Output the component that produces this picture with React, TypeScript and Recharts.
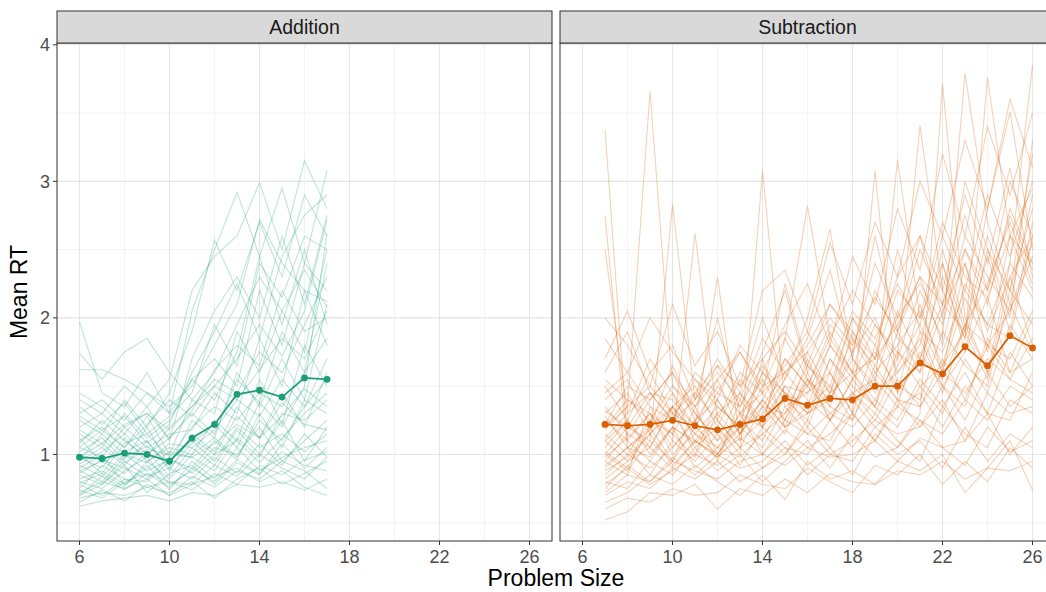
import React from 'react';
import { LineChart, Line, XAxis, YAxis, CartesianGrid } from 'recharts';

// problem sizes shown in each facet
const additionSizes = [6, 7, 8, 9, 10, 11, 12, 13, 14, 15, 16, 17];
const subtractionSizes = [7, 8, 9, 10, 11, 12, 13, 14, 15, 16, 17, 18, 19, 20, 21, 22, 23, 24, 25, 26];

// group means (dark line with points)
const additionMean = [0.98, 0.97, 1.01, 1.0, 0.95, 1.12, 1.22, 1.44, 1.47, 1.42, 1.56, 1.55];
const subtractionMean = [
  1.22, 1.21, 1.22, 1.25, 1.21, 1.18, 1.22, 1.26, 1.41, 1.36,
  1.41, 1.4, 1.5, 1.5, 1.67, 1.59, 1.79, 1.65, 1.87, 1.78,
];

// individual participants (faint lines), one row per participant
const additionParticipants: number[][] = [
  [0.62, 0.66, 0.68, 0.7, 0.66, 0.72, 0.7, 0.78, 0.76, 0.8, 0.74, 0.82],
  [0.68, 0.72, 0.7, 0.76, 0.72, 0.8, 0.68, 0.82, 0.9, 0.78, 0.86, 0.95],
  [0.72, 0.8, 0.75, 0.82, 0.7, 0.78, 0.84, 0.9, 0.8, 0.88, 0.76, 0.7],
  [0.78, 0.7, 0.82, 0.76, 0.8, 0.74, 0.86, 0.78, 0.92, 0.85, 0.96, 1.02],
  [0.82, 0.88, 0.78, 0.92, 0.74, 0.95, 0.82, 1.05, 0.88, 0.98, 1.05, 1.1],
  [0.85, 0.78, 0.95, 0.84, 0.9, 0.82, 0.98, 0.86, 1.08, 0.92, 1.15, 0.98],
  [0.88, 0.95, 0.86, 1.02, 0.84, 1.05, 0.92, 1.18, 1.0, 1.25, 0.95, 1.2],
  [0.92, 0.84, 1.0, 0.88, 0.96, 0.9, 1.1, 0.96, 1.3, 1.05, 1.4, 1.3],
  [0.95, 1.05, 0.92, 1.1, 0.88, 1.15, 1.02, 1.35, 1.12, 1.45, 1.2, 1.6],
  [0.98, 0.9, 1.12, 0.95, 1.05, 1.0, 1.25, 1.1, 1.55, 1.22, 1.8, 1.5],
  [1.02, 1.12, 0.96, 1.2, 0.92, 1.25, 1.12, 1.6, 1.35, 1.7, 1.4, 2.1],
  [1.05, 0.98, 1.2, 1.05, 1.15, 1.18, 1.45, 1.3, 1.85, 1.5, 2.2, 1.8],
  [1.1, 1.2, 1.05, 1.28, 1.0, 1.4, 1.3, 1.9, 1.6, 2.05, 1.75, 2.5],
  [1.15, 1.05, 1.3, 1.12, 1.25, 1.55, 1.7, 1.5, 2.2, 1.8, 2.4, 2.2],
  [1.2, 1.3, 1.15, 1.35, 1.1, 1.7, 2.05, 2.3, 2.0, 2.6, 2.1, 2.75],
  [1.25, 1.15, 1.4, 1.2, 1.45, 1.9, 2.57, 2.2, 2.7, 2.3, 2.9, 2.6],
  [1.3, 1.4, 1.25, 1.45, 1.3, 2.05, 2.5, 2.92, 2.45, 2.95, 2.4, 3.08],
  [1.4, 1.3, 1.5, 1.35, 1.55, 2.2, 2.45, 2.6, 2.99, 2.5, 3.15, 2.8],
  [1.62, 1.62, 1.55, 1.45, 1.35, 1.5, 1.8, 2.1, 2.72, 2.4, 2.2, 2.12],
  [1.74, 1.55, 1.75, 1.85, 1.6, 1.4, 1.6, 1.95, 2.3, 2.05, 2.35, 2.08],
  [1.97, 1.45, 1.35, 1.6, 1.3, 1.55, 1.4, 1.75, 2.45, 1.95, 2.5, 1.95],
  [0.75, 0.92, 0.82, 0.8, 0.95, 1.1, 0.95, 1.2, 1.05, 1.15, 1.02, 1.15],
  [0.8, 0.75, 0.88, 0.98, 0.78, 0.88, 1.05, 1.0, 1.2, 0.95, 1.1, 1.25],
  [0.9, 1.0, 0.78, 0.9, 1.02, 0.98, 0.88, 1.12, 0.98, 1.3, 1.25, 1.4],
  [1.0, 0.86, 1.08, 1.15, 0.98, 1.2, 1.35, 1.25, 1.45, 1.35, 1.6, 1.85],
  [1.08, 1.25, 1.1, 0.98, 1.2, 1.35, 1.55, 1.45, 1.75, 1.6, 1.95, 2.3],
  [0.7, 0.78, 0.92, 0.72, 0.86, 0.92, 0.78, 0.94, 0.85, 1.08, 0.9, 1.05],
  [0.65, 0.74, 0.66, 0.78, 0.7, 0.84, 0.76, 0.88, 0.82, 0.95, 0.88, 0.75],
  [1.18, 1.08, 1.22, 1.3, 1.12, 1.32, 1.62, 1.8, 1.65, 2.2, 1.9, 2.0],
  [0.96, 1.15, 1.0, 0.94, 1.08, 1.05, 1.18, 1.4, 1.28, 1.55, 1.35, 1.7],
  [0.74, 0.68, 0.8, 0.86, 0.76, 0.9, 0.8, 0.96, 0.86, 1.02, 0.92, 0.88],
  [0.86, 0.96, 0.9, 0.82, 0.98, 0.86, 1.0, 1.1, 0.94, 1.12, 1.3, 1.45],
  [1.12, 0.94, 1.02, 1.1, 0.9, 1.08, 1.22, 1.05, 1.38, 1.2, 1.5, 2.62],
  [0.93, 1.02, 1.15, 1.0, 1.12, 1.3, 1.15, 1.55, 1.38, 1.9, 1.6, 2.4],
  [1.28, 1.18, 1.05, 1.22, 1.4, 1.28, 1.5, 1.7, 1.95, 1.72, 2.05, 2.72],
  [0.79, 0.86, 0.76, 0.95, 0.82, 1.0, 1.12, 0.98, 1.25, 1.1, 1.35, 1.55],
  [1.05, 1.18, 1.28, 1.08, 1.22, 1.6, 1.9, 2.25, 1.85, 2.45, 2.75, 2.9],
  [0.7, 0.84, 0.74, 0.86, 0.8, 0.78, 0.92, 0.84, 1.0, 0.9, 0.82, 0.98],
  [1.35, 1.22, 1.38, 1.15, 1.28, 1.45, 1.95, 1.65, 2.4, 2.15, 2.6, 2.5],
  [0.88, 0.8, 0.98, 1.06, 0.94, 1.12, 1.0, 1.28, 1.12, 1.38, 1.22, 1.18],
  [1.45, 1.35, 1.2, 1.3, 1.18, 1.35, 1.5, 1.4, 1.62, 1.85, 1.7, 2.05],
  [0.98, 1.08, 0.94, 1.04, 1.0, 0.98, 1.08, 1.22, 1.12, 1.28, 1.48, 1.35],
];

const subtractionParticipants: number[][] = [
  [3.38, 1.1, 0.95, 1.2, 0.9, 1.05, 0.98, 1.15, 1.0, 1.25, 1.05, 1.3, 1.1, 1.4, 1.2, 1.5, 1.25, 1.6, 1.35, 1.5],
  [2.75, 1.05, 1.2, 0.95, 1.35, 1.0, 1.25, 1.1, 1.45, 1.2, 1.6, 1.3, 1.8, 1.45, 2.1, 1.6, 2.4, 1.75, 2.6, 2.2],
  [2.5, 1.3, 1.7, 1.45, 1.2, 1.55, 1.15, 1.4, 1.7, 1.5, 1.9, 1.6, 2.2, 1.85, 1.7, 2.1, 1.9, 2.6, 2.1, 2.9],
  [1.2, 1.35, 3.66, 1.5, 1.3, 1.1, 1.25, 1.6, 1.4, 1.75, 1.45, 2.0, 1.7, 1.95, 2.3, 1.8, 2.5, 2.1, 2.8, 2.4],
  [1.0, 1.2, 1.1, 2.83, 1.4, 2.0, 1.3, 1.2, 1.5, 1.45, 1.8, 1.6, 1.7, 2.5, 1.9, 1.75, 2.2, 1.95, 1.85, 2.6],
  [0.95, 0.85, 1.35, 1.1, 2.62, 1.25, 1.05, 1.35, 1.15, 1.55, 1.25, 1.45, 1.55, 1.35, 1.9, 1.5, 1.75, 2.15, 1.6, 2.0],
  [1.6, 1.9, 1.45, 1.4, 1.2, 2.3, 1.1, 1.7, 1.2, 1.6, 1.25, 1.55, 1.35, 1.75, 1.5, 1.65, 1.9, 1.55, 2.3, 1.8],
  [1.1, 0.95, 1.15, 1.3, 1.05, 1.2, 1.0, 3.08, 1.35, 1.45, 1.6, 1.3, 3.08, 1.45, 1.7, 1.55, 1.95, 1.8, 2.05, 2.45],
  [0.85, 1.0, 0.9, 1.05, 1.25, 0.95, 1.4, 1.2, 1.85, 2.82, 1.85, 1.6, 1.4, 1.7, 2.2, 1.85, 3.79, 2.7, 2.2, 3.2],
  [1.25, 1.1, 1.3, 1.0, 1.15, 1.35, 1.2, 1.3, 1.55, 2.0, 2.65, 1.7, 1.5, 3.16, 2.0, 2.4, 1.9, 2.8, 3.51, 2.5],
  [1.4, 1.55, 1.2, 1.65, 1.3, 1.1, 1.45, 1.25, 1.7, 1.5, 1.85, 2.2, 1.95, 1.7, 3.41, 2.2, 1.85, 3.76, 2.6, 2.95],
  [0.7, 0.8, 0.75, 0.9, 0.82, 0.95, 0.8, 0.9, 1.05, 0.85, 1.0, 0.95, 1.2, 1.05, 1.3, 3.71, 2.0, 1.6, 2.4, 3.85],
  [0.52, 0.58, 0.72, 0.7, 0.78, 0.6, 0.75, 0.7, 0.82, 0.72, 0.86, 0.8, 0.78, 0.88, 0.85, 0.95, 0.82, 0.9, 0.88, 0.95],
  [0.6, 0.68, 0.65, 0.75, 0.7, 0.72, 0.85, 0.78, 0.75, 0.9, 0.8, 0.72, 0.92, 0.85, 1.0, 0.78, 0.95, 0.8, 1.05, 0.9],
  [0.65, 0.72, 0.85, 0.78, 0.92, 0.8, 0.7, 0.85, 0.67, 0.95, 0.82, 0.88, 0.78, 0.95, 0.88, 1.0, 0.72, 0.9, 1.1, 0.74],
  [0.75, 0.92, 0.8, 0.98, 0.85, 1.0, 0.9, 0.95, 1.1, 0.92, 1.05, 0.85, 1.15, 1.0, 1.1, 0.9, 1.2, 0.95, 1.15, 1.05],
  [0.8, 0.75, 0.95, 0.85, 1.05, 0.88, 1.0, 0.8, 0.95, 1.1, 0.9, 1.15, 0.98, 1.05, 1.25, 1.05, 1.1, 1.3, 1.0, 1.2],
  [0.9, 1.05, 0.85, 1.1, 0.95, 1.15, 0.92, 1.2, 1.05, 1.0, 1.25, 1.05, 1.3, 1.1, 0.95, 1.35, 1.15, 1.05, 1.4, 1.3],
  [1.0, 0.88, 1.1, 0.95, 1.2, 1.05, 1.3, 1.0, 1.25, 1.15, 1.1, 1.4, 1.2, 1.35, 1.45, 1.2, 1.5, 1.3, 1.25, 1.6],
  [1.05, 1.25, 1.0, 1.2, 1.1, 0.98, 1.15, 1.4, 1.2, 1.35, 1.5, 1.25, 1.65, 1.4, 1.35, 1.7, 1.4, 1.8, 1.55, 1.45],
  [1.15, 1.0, 1.25, 1.15, 0.98, 1.3, 1.1, 1.25, 1.5, 1.3, 1.4, 1.7, 1.45, 1.6, 1.85, 1.45, 1.95, 1.6, 2.1, 1.75],
  [1.3, 1.45, 1.15, 1.35, 1.5, 1.2, 1.55, 1.35, 1.3, 1.65, 1.45, 1.85, 1.55, 2.05, 1.7, 2.3, 1.85, 2.45, 1.9, 2.7],
  [1.5, 1.25, 1.6, 1.3, 1.45, 1.65, 1.35, 1.75, 2.2, 1.6, 1.95, 1.75, 2.4, 2.0, 2.6, 2.2, 2.9, 2.4, 3.1, 2.3],
  [1.85, 1.6, 2.0, 1.75, 1.55, 1.4, 1.8, 1.6, 1.95, 2.25, 1.8, 2.45, 2.1, 2.8, 2.35, 3.2, 2.6, 3.4, 2.9, 3.5],
  [2.0, 1.8, 1.5, 2.1, 1.65, 1.9, 1.5, 2.2, 2.35, 1.9, 2.55, 2.1, 2.7, 2.3, 3.0, 2.6, 3.3, 2.8, 3.6, 3.1],
  [1.12, 1.3, 1.45, 1.25, 1.6, 1.45, 1.75, 1.5, 1.6, 1.8, 2.1, 1.9, 1.7, 2.2, 2.0, 2.7, 2.3, 2.15, 2.6, 2.4],
  [0.88, 0.98, 1.15, 0.92, 1.1, 1.0, 1.2, 1.05, 1.35, 1.15, 1.3, 1.2, 1.4, 1.25, 1.55, 1.35, 1.6, 1.3, 1.75, 1.5],
  [1.35, 1.15, 1.4, 1.6, 1.25, 1.5, 1.3, 1.55, 1.25, 1.7, 1.35, 1.9, 1.6, 1.8, 2.05, 1.65, 2.25, 1.95, 2.4, 2.15],
  [0.78, 0.9, 0.78, 0.88, 1.0, 0.92, 1.05, 0.9, 1.0, 1.2, 1.0, 1.1, 1.25, 1.15, 1.2, 1.4, 1.1, 1.45, 1.3, 1.35],
  [1.7, 2.05, 1.6, 1.8, 1.4, 1.7, 1.45, 2.0, 1.55, 1.85, 2.35, 1.7, 2.6, 1.9, 2.5, 2.1, 2.75, 2.2, 3.0, 2.6],
  [0.95, 1.15, 1.05, 1.35, 1.0, 1.4, 1.15, 1.6, 1.45, 1.3, 1.7, 1.5, 1.35, 1.9, 1.6, 2.4, 1.75, 2.5, 2.0, 3.3],
  [1.2, 1.4, 1.3, 1.15, 1.45, 1.25, 1.6, 1.45, 2.25, 1.65, 1.5, 2.0, 1.8, 2.3, 2.6, 2.0, 3.0, 2.5, 2.2, 2.8],
  [1.1, 1.25, 1.05, 1.35, 1.15, 1.0, 1.3, 1.45, 1.25, 1.55, 1.35, 1.25, 1.6, 1.4, 1.75, 1.5, 1.35, 1.85, 1.6, 1.7],
  [0.98, 1.12, 1.3, 1.05, 1.25, 1.4, 1.15, 1.35, 1.6, 1.4, 1.25, 1.55, 1.75, 1.5, 1.4, 1.9, 1.65, 1.5, 2.2, 1.95],
  [1.28, 1.05, 1.18, 1.45, 1.1, 1.3, 1.45, 1.2, 1.4, 1.25, 1.7, 1.45, 1.3, 1.65, 1.95, 1.6, 2.15, 1.8, 1.7, 2.05],
  [1.45, 1.6, 1.35, 1.25, 1.55, 1.35, 1.2, 1.5, 1.85, 1.55, 1.4, 1.75, 2.0, 1.6, 1.8, 2.5, 1.95, 2.25, 2.7, 2.25],
  [0.92, 1.05, 0.98, 1.2, 1.08, 1.25, 1.05, 1.15, 1.3, 1.5, 1.3, 1.45, 1.25, 1.55, 1.35, 1.6, 1.45, 1.7, 1.55, 1.85],
  [1.18, 1.35, 1.5, 1.3, 1.2, 1.45, 1.35, 1.65, 1.45, 1.35, 1.8, 1.55, 1.95, 1.75, 1.6, 2.05, 2.4, 1.9, 2.3, 2.6],
  [0.82, 0.95, 1.05, 0.9, 1.1, 0.98, 1.12, 1.0, 1.18, 1.05, 1.15, 1.3, 1.1, 1.35, 1.25, 1.15, 1.4, 1.25, 1.5, 1.4],
  [1.55, 1.4, 1.25, 1.5, 1.35, 1.55, 1.75, 1.45, 1.65, 1.9, 1.6, 2.05, 1.85, 2.25, 1.95, 2.6, 2.2, 2.9, 2.45, 3.0],
  [1.02, 0.9, 1.2, 1.35, 1.15, 1.05, 1.2, 1.4, 1.2, 1.3, 1.45, 1.6, 1.35, 1.2, 1.5, 1.3, 1.7, 1.45, 1.95, 1.7],
  [1.32, 1.2, 1.45, 1.25, 1.4, 1.6, 1.4, 1.85, 1.6, 1.75, 2.0, 1.8, 2.15, 1.9, 2.3, 2.1, 2.5, 2.2, 2.75, 2.35],
  [0.72, 0.85, 0.8, 0.95, 0.88, 0.82, 0.95, 1.0, 0.92, 1.05, 0.98, 1.0, 1.1, 0.95, 1.12, 1.05, 0.92, 1.2, 1.02, 1.1],
  [1.22, 1.5, 1.4, 1.6, 1.35, 1.65, 1.5, 1.7, 1.9, 1.65, 2.1, 1.85, 1.65, 2.0, 2.25, 1.95, 2.6, 2.3, 2.05, 2.55],
];

const xTicks = [6, 10, 14, 18, 22, 26];
const xMinor = [8, 12, 16, 20, 24];
const yTicks = [1, 2, 3, 4];
const yMinor = [0.5, 1.5, 2.5, 3.5];

const FONT = '"Liberation Sans", Arial, sans-serif';
const X_DOMAIN: [number, number] = [5, 27];
const Y_DOMAIN: [number, number] = [0.366, 4.013];

function buildRows(sizes: number[], mean: number[], participants: number[][]) {
  return sizes.map((size, i) => {
    const row: Record<string, number> = { size, mean: mean[i] };
    participants.forEach((p, j) => {
      row[`p${j}`] = p[i];
    });
    return row;
  });
}

const additionRows = buildRows(additionSizes, additionMean, additionParticipants);
const subtractionRows = buildRows(subtractionSizes, subtractionMean, subtractionParticipants);

type PanelProps = {
  rows: Record<string, number>[];
  count: number;
  color: string;
  showY: boolean;
  width: number;
  right: number;
};

const Panel = ({ rows, count, color, showY, width, right }: PanelProps) => (
  <LineChart
    width={width}
    height={592}
    data={rows}
    margin={{ top: 43, right, bottom: 21, left: 0 }}
  >
    <CartesianGrid
      stroke="#EBEBEB"
      strokeWidth={0.6}
      horizontalValues={yMinor}
      verticalValues={xMinor}
    />
    <CartesianGrid
      stroke="#E5E5E5"
      strokeWidth={1.1}
      horizontalValues={yTicks}
      verticalValues={xTicks}
    />
    <XAxis
      dataKey="size"
      type="number"
      domain={X_DOMAIN}
      ticks={xTicks}
      allowDataOverflow
      height={30}
      axisLine={false}
      tickLine={{ stroke: '#333333' }}
      tickSize={4}
      tickMargin={5}
      tick={{ fill: '#4D4D4D', fontSize: 18, fontFamily: FONT }}
    />
    <YAxis
      type="number"
      domain={Y_DOMAIN}
      ticks={yTicks}
      allowDataOverflow
      hide={!showY}
      width={showY ? 57 : 0}
      axisLine={false}
      tickLine={{ stroke: '#333333' }}
      tickSize={4}
      tickMargin={3}
      tick={{ fill: '#4D4D4D', fontSize: 18, fontFamily: FONT }}
    />
    {Array.from({ length: count }, (_, j) => (
      <Line
        key={`p${j}`}
        dataKey={`p${j}`}
        stroke={color}
        strokeOpacity={0.28}
        strokeWidth={1.1}
        dot={false}
        isAnimationActive={false}
      />
    ))}
    <Line
      dataKey="mean"
      stroke={color}
      strokeWidth={1.7}
      dot={{ r: 3.4, fill: color, stroke: color, strokeWidth: 0 }}
      isAnimationActive={false}
    />
  </LineChart>
);

export default function App() {
  return (
    <div
      style={{
        position: 'absolute',
        left: 0,
        top: 0,
        width: 1046,
        height: 592,
        overflow: 'hidden',
        background: '#fff',
        fontFamily: FONT,
      }}
    >
      <div style={{ position: 'absolute', left: 0, top: 0 }}>
        <Panel rows={additionRows} count={additionParticipants.length} color="#1B9E77" showY width={560} right={8} />
      </div>
      <div style={{ position: 'absolute', left: 560, top: 0 }}>
        <Panel rows={subtractionRows} count={subtractionParticipants.length} color="#D95F02" showY={false} width={495} right={0} />
      </div>
      <svg
        width={1046}
        height={592}
        style={{ position: 'absolute', left: 0, top: 0, pointerEvents: 'none' }}
      >
        {/* panel borders */}
        <rect x={57} y={43} width={495} height={498} fill="none" stroke="#333333" strokeWidth={1} />
        <rect x={560} y={43} width={495} height={498} fill="none" stroke="#333333" strokeWidth={1} />
        {/* strips */}
        <rect x={57} y={11} width={495} height={32} fill="#D9D9D9" stroke="#333333" strokeWidth={1} />
        <rect x={560} y={11} width={495} height={32} fill="#D9D9D9" stroke="#333333" strokeWidth={1} />
        <text x={304.5} y={34} textAnchor="middle" fontSize={19.5} fill="#1A1A1A" fontFamily={FONT}>
          Addition
        </text>
        <text x={807.5} y={34} textAnchor="middle" fontSize={19.5} fill="#1A1A1A" fontFamily={FONT}>
          Subtraction
        </text>
        {/* axis titles */}
        <text x={556} y={586} textAnchor="middle" fontSize={23} fill="#000" fontFamily={FONT}>
          Problem Size
        </text>
        <text
          x={0}
          y={0}
          transform="translate(27,292) rotate(-90)"
          textAnchor="middle"
          fontSize={23}
          fill="#000"
          fontFamily={FONT}
        >
          Mean RT
        </text>
      </svg>
    </div>
  );
}
